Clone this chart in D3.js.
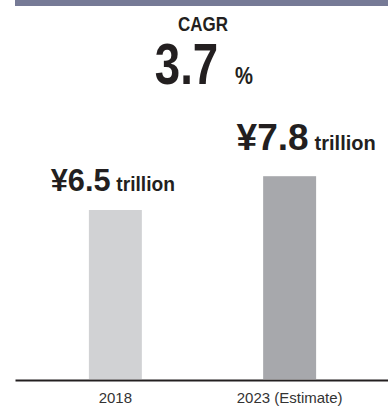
<!DOCTYPE html>
<html>
<head>
<meta charset="utf-8">
<script src="https://cdn.jsdelivr.net/npm/d3@7"></script>
<style>
  html, body { margin: 0; padding: 0; background: #fff; }
  svg { display: block; }
  .cond { font-family: "Liberation Sans", Arial, sans-serif; font-weight: bold; fill: #231f20; }
  .axis text { font-family: "Liberation Sans", Arial, sans-serif; font-size: 15px; fill: #333; }
</style>
</head>
<body>
<script>
// ---- data ----
const categories = ["2018", "2023 (Estimate)"];
const values = [6.5, 7.8];
const valueLabels = ["¥6.5", "¥7.8"];
const unitLabel = "trillion";
const cagrTitle = "CAGR";
const cagrValue = "3.7";
const cagrUnit = "%";

// ---- layout / style (not data) ----
const W = 388, H = 408;
const barColors = ["#d1d2d4", "#a7a8ac"];
const labelStyle = [
  { dx: -2.5, dy: -19, size: 32, sx: 0.96 },
  { dx: 16.5, dy: -26, size: 37, sx: 1.0 }
];

const svg = d3.select("body").append("svg").attr("width", W).attr("height", H);

// top band
svg.append("rect").attr("x", 15).attr("y", 0).attr("width", W - 15).attr("height", 6).attr("fill", "#767a96");

const x = d3.scaleBand().domain(categories).range([15, 390]).paddingInner(0.696).paddingOuter(0.424);
const y = d3.scaleLinear().domain([0, 10]).range([379, 119]);

// bars
svg.selectAll("rect.bar").data(values).enter().append("rect")
  .attr("class", "bar")
  .attr("x", (d, i) => x(categories[i]))
  .attr("width", x.bandwidth())
  .attr("y", d => y(d))
  .attr("height", d => y(0) - y(d))
  .attr("fill", (d, i) => barColors[i]);

// axis
const axis = svg.append("g").attr("class", "axis").attr("transform", "translate(0,380)")
  .call(d3.axisBottom(x).tickSize(0).tickSizeOuter(0));
axis.select(".domain").attr("stroke", "#231f20").attr("stroke-width", 2);
axis.selectAll("text").attr("y", 23).attr("dy", 0);

// value labels
values.forEach((v, i) => {
  const s = labelStyle[i];
  const g = svg.append("g")
    .attr("transform", `translate(${x(categories[i]) + x.bandwidth() / 2 + s.dx},${y(v) + s.dy}) scale(${s.sx},1)`);
  const t = g.append("text").attr("class", "cond").attr("text-anchor", "middle");
  t.append("tspan").attr("font-size", s.size).text(valueLabels[i]);
  t.append("tspan").attr("dx", 6).attr("font-size", 20).text(unitLabel);
});

// CAGR
svg.append("g").attr("transform", "translate(203,31) scale(0.87,1)")
  .append("text").attr("class", "cond").attr("text-anchor", "middle")
  .attr("font-size", 19.5).text(cagrTitle);

svg.append("g").attr("transform", "translate(186.5,84) scale(0.8,1)")
  .append("text").attr("class", "cond").attr("text-anchor", "middle")
  .attr("font-size", 57).text(cagrValue);

svg.append("g").attr("transform", "translate(244,84) scale(0.86,1)")
  .append("text").attr("class", "cond").attr("text-anchor", "middle")
  .attr("font-size", 23.5).text(cagrUnit);
</script>
</body>
</html>
